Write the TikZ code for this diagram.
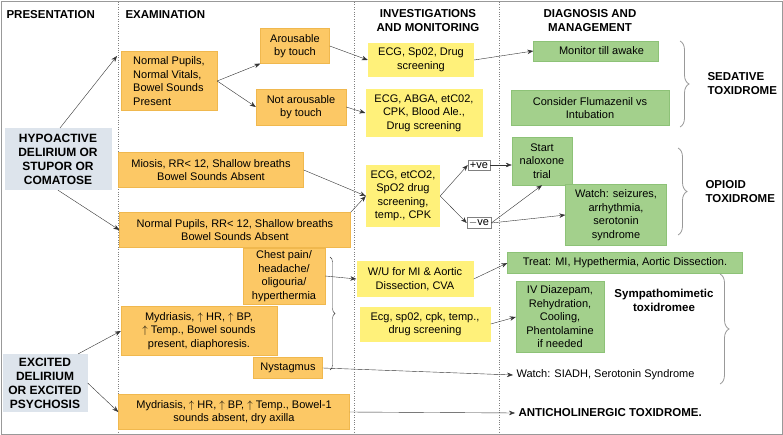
\documentclass[tikz,border=0pt]{standalone}
\usepackage{fontspec}
\setmainfont{Liberation Sans}
\usetikzlibrary{positioning,arrows.meta,decorations.pathreplacing}
\definecolor{boxorange}{HTML}{FCC865}
\definecolor{edgeorange}{HTML}{F0B84E}
\definecolor{boxyellow}{HTML}{FFF17A}
\definecolor{boxgreen}{HTML}{A3D08C}
\definecolor{edgegreen}{HTML}{8DC277}
\definecolor{boxblue}{HTML}{DDE4EC}
\tikzset{
  exam/.style={fill=boxorange, draw=edgeorange, align=center, inner sep=1pt},
  invest/.style={fill=boxyellow, align=center, inner sep=1pt},
  manage/.style={fill=boxgreen, draw=edgegreen, align=center, inner sep=1pt},
  present/.style={fill=boxblue, align=center, inner sep=1pt, font=\fontsize{12}{14}\selectfont\bfseries},
  signbox/.style={fill=white, draw=gray, inner sep=2pt},
  header/.style={font=\fontsize{11.5}{14}\selectfont\bfseries, align=center},
  flow/.style={-{Stealth[length=6pt,width=4.5pt]}, black!80},
  curly/.style={decorate, decoration={brace, amplitude=9pt}, gray!80, thick},
  smallcurly/.style={decorate, decoration={brace, amplitude=5pt}, black!80},
  column/.style={dotted, gray}
}
\begin{document}
\begin{tikzpicture}[x=1pt, y=-1pt, font=\fontsize{11}{13.5}\selectfont]
    % frame and columns
    \draw[gray!80, thick] (1,1) rectangle (782,434);
    \useasboundingbox (0,0) rectangle (783,435);
    \foreach \cx in {118,354,499}
      \draw[column] (\cx,2) -- (\cx,433);

    % headers
    \node[header, anchor=west] at (3,15) {PRESENTATION};
    \node[header, anchor=west] at (122,15) {EXAMINATION};
    \node[header] at (428,21) {INVESTIGATIONS\\AND MONITORING};
    \node[header] at (590,21) {DIAGNOSIS AND\\MANAGEMENT};

    % presentation
    \node[present, minimum width=107pt, minimum height=62pt] (hypo) at (58,159) {HYPOACTIVE\\DELIRIUM OR\\STUPOR OR\\COMATOSE};
    \node[present, minimum width=85pt, minimum height=58pt] (excited) at (45,383) {EXCITED\\DELIRIUM\\OR EXCITED\\PSYCHOSIS};
    \coordinate (hypotop) at (60,128);
    \coordinate (excitedtop) at (78,354);

    % examination
    \node[exam, align=left, minimum width=96pt, minimum height=59pt] (normvit) at (169,81) {Normal Pupils,\\Normal Vitals,\\Bowel Sounds\\Present};
    \node[exam, minimum width=69pt, minimum height=35pt] (arous) at (295,46) {Arousable\\by touch};
    \node[exam, minimum width=90pt, minimum height=36pt] (notarous) at (301,107) {Not arousable\\by touch};
    \node[exam, minimum width=185pt, minimum height=35pt] (miosis) at (211,170) {Miosis, RR< 12, Shallow breaths\\Bowel Sounds Absent};
    \node[exam, minimum width=231pt, minimum height=35pt] (normresp) at (235,230) {Normal Pupils, RR< 12, Shallow breaths\\Bowel Sounds Absent};
    \node[exam, minimum width=82pt, minimum height=56pt] (chest) at (284,276) {Chest pain/\\headache/\\oligouria/\\hyperthermia};
    \node[exam, minimum width=156pt, minimum height=49pt] (mydpres) at (199,331) {Mydriasis, $\uparrow$ HR, $\uparrow$ BP,\\$\uparrow$ Temp., Bowel sounds\\present, diaphoresis.};
    \node[exam, minimum width=69pt, minimum height=21pt] (nystag) at (288,368) {Nystagmus};
    \node[exam, minimum width=231pt, minimum height=35pt] (mydabs) at (234,412) {Mydriasis, $\uparrow$ HR, $\uparrow$ BP, $\uparrow$ Temp., Bowel-1\\sounds absent, dry axilla};
    \coordinate (normvitin) at (117,56);

    % investigations
    \node[invest, minimum width=106pt, minimum height=34pt] (ecgdrug) at (421,60) {ECG, Sp02, Drug\\screening};
    \node[invest, minimum width=117pt, minimum height=48pt] (ecgabga) at (424,113) {ECG, ABGA, etC02,\\CPK, Blood Ale.,\\Drug screening};
    \node[invest, minimum width=74pt, minimum height=62pt] (ecgetco) at (403,196) {ECG, etCO2,\\SpO2 drug\\screening,\\temp., CPK};
    \node[signbox] (pos) at (479,165) {+ve};
    \node[signbox] (neg) at (479,223) {$-$ve};
    \node[invest, minimum width=117pt, minimum height=35pt] (wu) at (415,279) {W/U for MI \& Aortic\\Dissection, CVA};
    \node[invest, minimum width=131pt, minimum height=35pt] (ecgsp) at (425,324) {Ecg, sp02, cpk, temp.,\\drug screening};

    % diagnosis and management
    \node[manage, minimum width=125pt, minimum height=20pt] (monitor) at (596,51) {\quad Monitor till awake};
    \node[manage, minimum width=158pt, minimum height=35pt] (fluma) at (590,108) {Consider Flumazenil vs\\Intubation};
    \node[manage, minimum width=60pt, minimum height=48pt] (nalox) at (542,161) {Start\\naloxone\\trial};
    \node[manage, minimum width=101pt, minimum height=61pt] (watchser) at (616,215) {Watch: seizures,\\arrhythmia,\\serotonin\\syndrome};
    \node[manage, minimum width=235pt, minimum height=21pt] (treat) at (625,263) {Treat: MI, Hypethermia, Aortic Dissection.};
    \node[manage, minimum width=88pt, minimum height=71pt] (diaz) at (560,317) {IV Diazepam,\\Rehydration,\\Cooling,\\Phentolamine\\if needed};
    \node[header] (symp) at (664,300) {Sympathomimetic\\toxidromee};
    \node[anchor=west] (siadh) at (513,375) {Watch: SIADH, Serotonin Syndrome};
    \node[header, anchor=west] (antichol) at (515,413) {ANTICHOLINERGIC TOXIDROME.};
    \node[header, align=left, anchor=west] (sedat) at (704,84) {SEDATIVE\\TOXIDROME};
    \node[header, align=left, anchor=west] (opioid) at (702,192) {OPIOID\\TOXIDROME};

    % braces
    \draw[curly] (680,41) -- (680,127);
    \draw[curly] (678,148) -- (678,235);
    \draw[curly] (720,274) -- (720,384);
    \draw[smallcurly] (330,257) -- (330,370);

    % connectors
    \draw[flow] (hypotop) -- (normvitin);
    \draw[flow] (hypo.south) -- (normresp.west);
    \draw[flow] (normvit.east) -- (arous.south west);
    \draw[flow] (normvit.east) -- (notarous.west);
    \draw[flow] (arous.east) -- (ecgdrug.west);
    \draw[flow] (notarous.east) -- (ecgabga.west);
    \draw[flow] (miosis.east) -- (ecgetco.west);
    \draw[flow] (normresp.north east) -- (ecgetco.west);
    \draw[flow] (ecgetco.east) -- (pos.west);
    \draw[flow] (ecgetco.east) -- (neg.west);
    \draw[flow] (pos.east) -- (nalox.west |- pos.east);
    \draw[flow] (neg.east) -- (nalox.south);
    \draw[flow] (neg.east) -- (watchser.west);
    \draw[flow] (ecgdrug.east) -- (monitor.west);
    \draw[flow] (chest.east) -- (wu.west);
    \draw[flow] (wu.east) -- (treat.west);
    \draw[flow] (ecgsp.east) -- (diaz.west);
    \draw[flow] (nystag.east) -- (siadh.west);
    \draw[flow] (excitedtop) -- (mydpres.west);
    \draw[flow] (excited.east) -- (mydabs.west);
    \draw[flow] (mydabs.east) -- (antichol.west);
  \end{tikzpicture}
\end{document}
